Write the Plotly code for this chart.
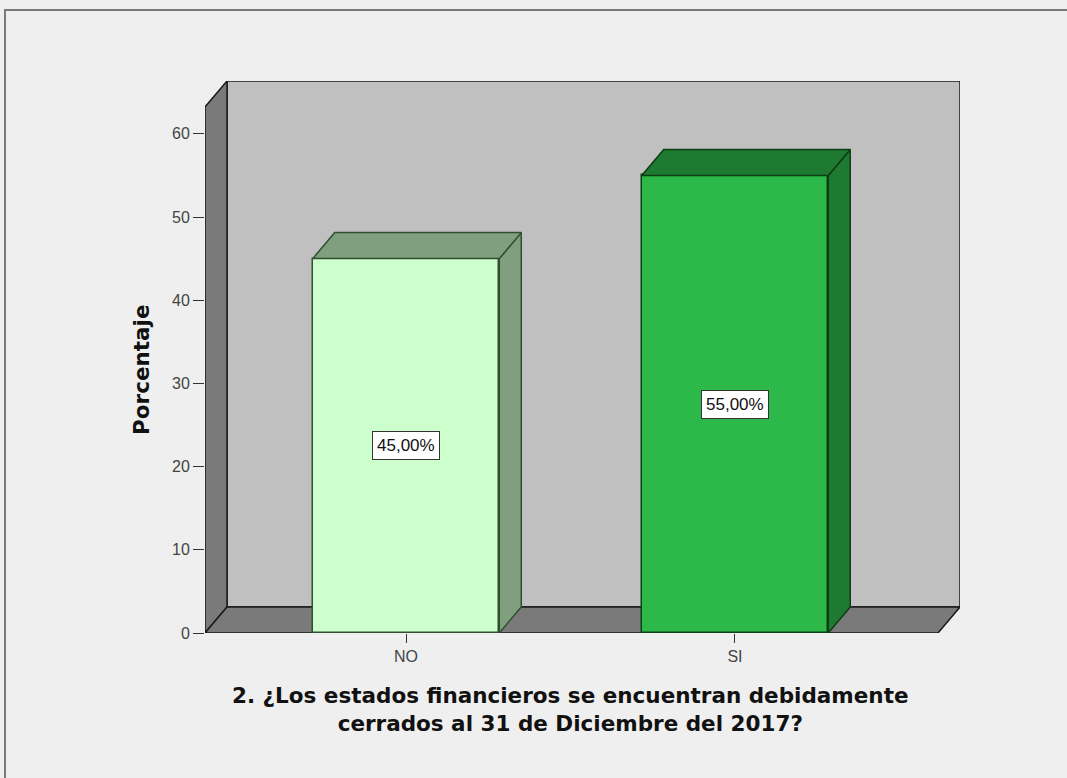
import plotly.graph_objects as go

# Survey answers and their percentages
categories = ["NO", "SI"]
percentages = [45.0, 55.0]
value_labels = ["45,00%", "55,00%"]
y_ticks = [0, 10, 20, 30, 40, 50, 60]

face_colors = ["#ccffcc", "#2db84a"]
shade_colors = ["#7f9f7f", "#1e7a30"]
edge_colors = ["#2f4f2f", "#0d3d14"]

# Scene geometry in data units
X_MIN, X_MAX = -0.611, 1.684
Y_MAX = 66.35
DX, DY = 0.0669, 3.125          # depth offset of the pseudo-3D box
BAR_W = 0.567
X_FRONT = X_MAX - DX

NARROW = "Liberation Sans Narrow, Liberation Sans, Arial"
WIDE_BOLD = "DejaVu Sans, Verdana, sans-serif"

xs = list(range(len(categories)))

fig = go.Figure()

# Front faces of the bars
fig.add_trace(go.Bar(
    x=xs, y=percentages, width=BAR_W,
    marker=dict(color=face_colors, line=dict(color=edge_colors, width=1.5)),
    hoverinfo="skip", showlegend=False,
))

# Side and top faces computed from the bar values
for x, v, shade, edge in zip(xs, percentages, shade_colors, edge_colors):
    xl, xr = x - BAR_W / 2, x + BAR_W / 2
    side_x = [xr, xr + DX, xr + DX, xr, xr]
    side_y = [0, DY, v + DY, v, 0]
    top_x = [xl, xr, xr + DX, xl + DX, xl]
    top_y = [v, v, v + DY, v + DY, v]
    for px, py in ((side_x, side_y), (top_x, top_y)):
        fig.add_trace(go.Scatter(
            x=px, y=py, mode="lines", fill="toself", fillcolor=shade,
            line=dict(color=edge, width=1.5), hoverinfo="skip", showlegend=False,
        ))

# Walls and floor of the chart box
wall_line = dict(color="#1a1a1a", width=1.5)
shapes = [
    # back wall
    dict(type="path", xref="x", yref="y", layer="below",
         path=f"M{X_MIN+DX},{DY} L{X_MAX},{DY} L{X_MAX},{Y_MAX} L{X_MIN+DX},{Y_MAX} Z",
         fillcolor="#c0c0c0", line=wall_line),
    # left wall
    dict(type="path", xref="x", yref="y", layer="below",
         path=f"M{X_MIN},0 L{X_MIN+DX},{DY} L{X_MIN+DX},{Y_MAX} L{X_MIN},{Y_MAX-DY} Z",
         fillcolor="#7a7a7a", line=wall_line),
    # floor
    dict(type="path", xref="x", yref="y", layer="below",
         path=f"M{X_MIN},0 L{X_FRONT},0 L{X_MAX},{DY} L{X_MIN+DX},{DY} Z",
         fillcolor="#7a7a7a", line=wall_line),
    # outer frame (runs past the right and bottom edges)
    dict(type="rect", xref="paper", yref="paper",
         x0=(5 - 205) / 755, x1=(1090 - 205) / 755,
         y0=(633 - 800) / 552, y1=(633 - 10) / 552,
         line=dict(color="#7a7a7a", width=2), fillcolor="rgba(0,0,0,0)"),
]

annotations = []
for x, v, lab in zip(xs, percentages, value_labels):
    annotations.append(dict(
        x=x, y=v / 2, xref="x", yref="y", text=lab, showarrow=False,
        font=dict(family=NARROW, size=17, color="#111"),
        bgcolor="white", bordercolor="#333", borderwidth=1, borderpad=4,
    ))

annotations.append(dict(
    x=(141 - 205) / 755, y=(633 - 370) / 552, xref="paper", yref="paper",
    text="<b>Porcentaje</b>", textangle=-90, showarrow=False,
    font=dict(family=WIDE_BOLD, size=21.5, color="#111"),
    xanchor="center", yanchor="middle",
))
annotations.append(dict(
    x=(570 - 205) / 755, y=(633 - 709) / 552, xref="paper", yref="paper",
    text="<b>2. ¿Los estados financieros se encuentran debidamente<br>cerrados al 31 de Diciembre del 2017?</b>",
    showarrow=False, align="center",
    font=dict(family=WIDE_BOLD, size=21.5, color="#111"),
    xanchor="center", yanchor="middle",
))

fig.update_layout(
    width=1067, height=778,
    margin=dict(l=205, r=107, t=81, b=145),
    paper_bgcolor="#efefef", plot_bgcolor="#efefef",
    shapes=shapes, annotations=annotations,
    bargap=0,
    xaxis=dict(
        range=[X_MIN, X_MAX], tickmode="array", tickvals=xs, ticktext=categories,
        ticks="outside", ticklen=9, tickcolor="#333", showgrid=False,
        zeroline=False, showline=False, fixedrange=True,
        tickfont=dict(family=NARROW, size=16, color="#444"),
    ),
    yaxis=dict(
        range=[0, Y_MAX], tickmode="array", tickvals=y_ticks,
        ticks="outside", ticklen=11, tickcolor="#333", showgrid=False,
        zeroline=False, showline=False, fixedrange=True,
        tickfont=dict(family=NARROW, size=16, color="#444"),
    ),
)

fig.write_html("out.html")
